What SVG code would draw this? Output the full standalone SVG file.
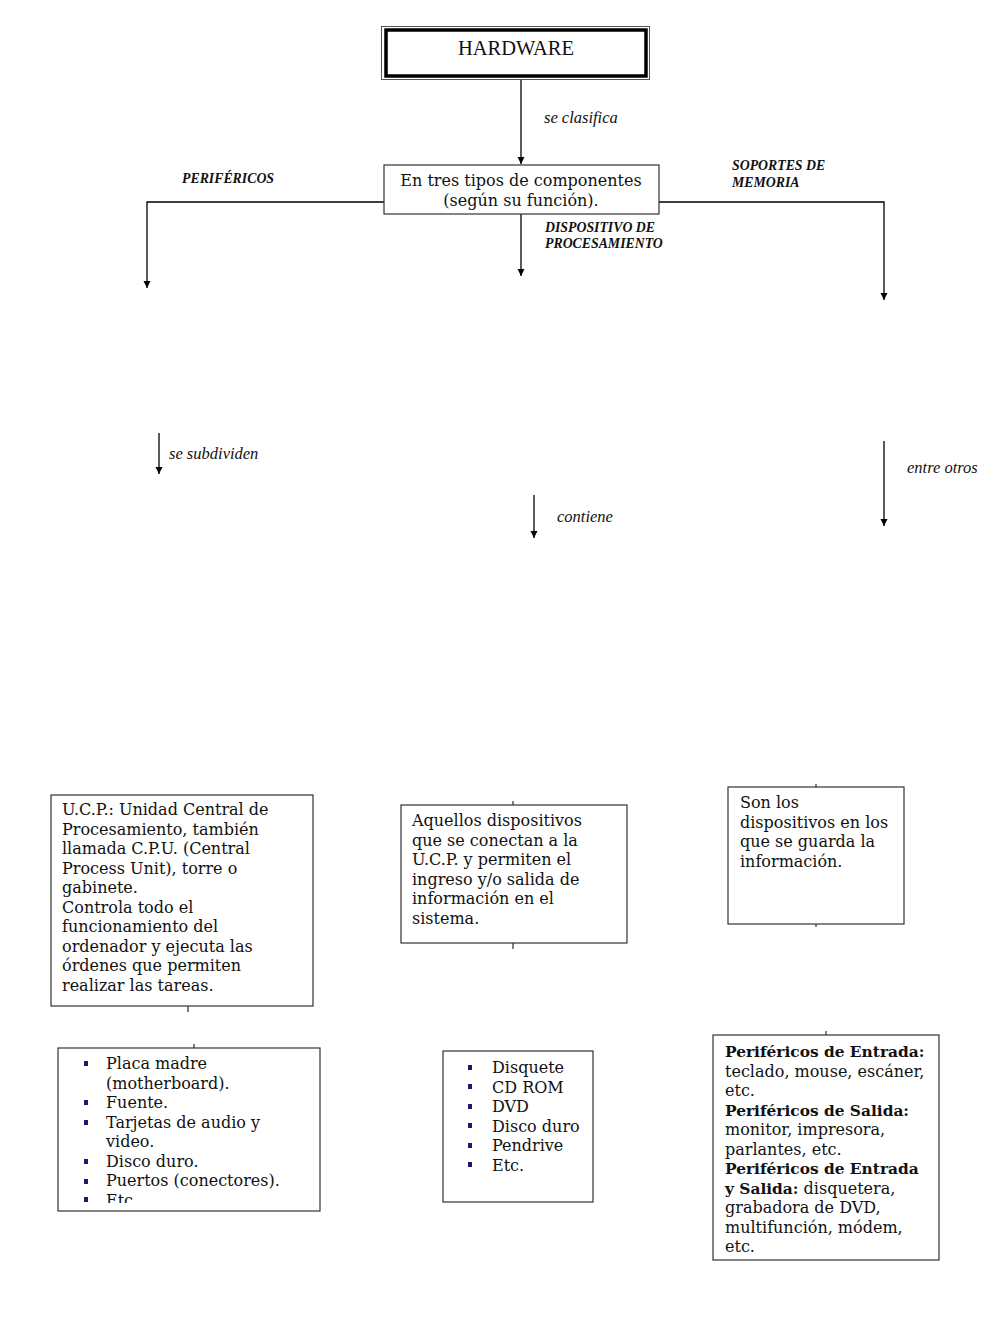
<svg xmlns="http://www.w3.org/2000/svg" width="1000" height="1333" viewBox="0 0 1000 1333">
<style>
.box{fill:#fff;stroke:#333;stroke-width:1.2}
.ln{stroke:#000;stroke-width:1.3;fill:none}
.tk{stroke:#000;stroke-width:1}
.t{font-family:"DejaVu Serif","Liberation Serif",serif;font-size:16px;fill:#111}
.b{font-weight:bold;font-size:15.4px}
.lab{font-family:"Liberation Serif",serif;font-style:italic;font-size:16.5px;fill:#111}
.cap{font-family:"Liberation Serif",serif;font-style:italic;font-weight:bold;font-size:13.8px;fill:#111}
.bul{fill:#1a1a6e}
</style>
<defs>
<marker id="ah" markerWidth="8" markerHeight="8" refX="7" refY="4" orient="auto" markerUnits="userSpaceOnUse">
<path d="M0,0.5 L7,4 L0,7.5 Z" fill="#000"/>
</marker>
<clipPath id="c4"><rect x="58" y="1048" width="262" height="155"/></clipPath>
</defs>
<rect width="1000" height="1333" fill="#fff"/>

<g id="connectors">
<line class="ln" x1="521" y1="79" x2="521" y2="164" marker-end="url(#ah)"/>
<polyline class="ln" points="384,202 147,202 147,288" marker-end="url(#ah)"/>
<polyline class="ln" points="659,202 884,202 884,300" marker-end="url(#ah)"/>
<line class="ln" x1="521" y1="214" x2="521" y2="276" marker-end="url(#ah)"/>
<line class="ln" x1="159" y1="433" x2="159" y2="474" marker-end="url(#ah)"/>
<line class="ln" x1="534" y1="495" x2="534" y2="538" marker-end="url(#ah)"/>
<line class="ln" x1="884" y1="441" x2="884" y2="526" marker-end="url(#ah)"/>
<line class="tk" x1="188" y1="1006" x2="188" y2="1012"/>
<line class="tk" x1="194" y1="1044" x2="194" y2="1048"/>
<line class="tk" x1="513" y1="801" x2="513" y2="805"/>
<line class="tk" x1="513" y1="943" x2="513" y2="949"/>
<line class="tk" x1="816" y1="784" x2="816" y2="787"/>
<line class="tk" x1="816" y1="924" x2="816" y2="927"/>
<line class="tk" x1="826" y1="1031" x2="826" y2="1035"/>
<text class="lab" x="544" y="123">se clasifica</text>
<text class="cap" x="182" y="183">PERIFÉRICOS</text>
<text class="cap" x="732" y="170">SOPORTES DE</text>
<text class="cap" x="732" y="187">MEMORIA</text>
<text class="cap" x="545" y="232">DISPOSITIVO DE</text>
<text class="cap" x="545" y="248">PROCESAMIENTO</text>
<text class="lab" x="169" y="459">se subdividen</text>
<text class="lab" x="557" y="522">contiene</text>
<text class="lab" x="907" y="473">entre otros</text>
</g>

<g id="hardware">
<rect x="381.5" y="26.5" width="268" height="53" fill="#fff" stroke="#555" stroke-width="1"/>
<rect x="386" y="30" width="260" height="46" fill="none" stroke="#000" stroke-width="3.5"/>
<text x="516" y="55" text-anchor="middle" font-family="Liberation Serif,serif" font-size="20.5" fill="#111">HARDWARE</text>
</g>

<g id="tipos">
<rect class="box" x="384" y="165" width="275" height="49"/>
<text class="t" x="521" y="186" text-anchor="middle">En tres tipos de componentes</text>
<text class="t" x="521" y="206" text-anchor="middle">(según su función).</text>
</g>

<g id="ucp">
<rect class="box" x="51" y="795" width="262" height="211"/>
<text class="t" x="62" y="815">U.C.P.: Unidad Central de</text>
<text class="t" x="62" y="834.5">Procesamiento, también</text>
<text class="t" x="62" y="854">llamada C.P.U. (Central</text>
<text class="t" x="62" y="873.5">Process Unit), torre o</text>
<text class="t" x="62" y="893">gabinete.</text>
<text class="t" x="62" y="912.5">Controla todo el</text>
<text class="t" x="62" y="932">funcionamiento del</text>
<text class="t" x="62" y="951.5">ordenador y ejecuta las</text>
<text class="t" x="62" y="971">órdenes que permiten</text>
<text class="t" x="62" y="990.5">realizar las tareas.</text>
</g>

<g id="perifericos-def">
<rect class="box" x="401" y="805" width="226" height="138"/>
<text class="t" x="412" y="826">Aquellos dispositivos</text>
<text class="t" x="412" y="845.5">que se conectan a la</text>
<text class="t" x="412" y="865">U.C.P. y permiten el</text>
<text class="t" x="412" y="884.5">ingreso y/o salida de</text>
<text class="t" x="412" y="904">información en el</text>
<text class="t" x="412" y="923.5">sistema.</text>
</g>

<g id="soportes-def">
<rect class="box" x="728" y="787" width="176" height="137"/>
<text class="t" x="740" y="808">Son los</text>
<text class="t" x="740" y="827.5">dispositivos en los</text>
<text class="t" x="740" y="847">que se guarda la</text>
<text class="t" x="740" y="866.5">información.</text>
</g>

<g id="componentes">
<rect class="box" x="58" y="1048" width="262" height="163"/>
<g clip-path="url(#c4)">
<rect class="bul" x="84" y="1061" width="4" height="5"/>
<rect class="bul" x="84" y="1100" width="4" height="5"/>
<rect class="bul" x="84" y="1120" width="4" height="5"/>
<rect class="bul" x="84" y="1159" width="4" height="5"/>
<rect class="bul" x="84" y="1179" width="4" height="5"/>
<rect class="bul" x="84" y="1197" width="4" height="5"/>
<text class="t" x="106" y="1069">Placa madre</text>
<text class="t" x="106" y="1088.5">(motherboard).</text>
<text class="t" x="106" y="1108">Fuente.</text>
<text class="t" x="106" y="1127.5">Tarjetas de audio y</text>
<text class="t" x="106" y="1147">video.</text>
<text class="t" x="106" y="1166.5">Disco duro.</text>
<text class="t" x="106" y="1186">Puertos (conectores).</text>
<text class="t" x="106" y="1205.5">Etc.</text>
</g>
</g>

<g id="memorias">
<rect class="box" x="443" y="1051" width="150" height="151"/>
<rect class="bul" x="468" y="1065" width="4" height="5"/>
<rect class="bul" x="468" y="1084" width="4" height="5"/>
<rect class="bul" x="468" y="1104" width="4" height="5"/>
<rect class="bul" x="468" y="1123" width="4" height="5"/>
<rect class="bul" x="468" y="1143" width="4" height="5"/>
<rect class="bul" x="468" y="1162" width="4" height="5"/>
<text class="t" x="492" y="1073">Disquete</text>
<text class="t" x="492" y="1092.5">CD ROM</text>
<text class="t" x="492" y="1112">DVD</text>
<text class="t" x="492" y="1131.5">Disco duro</text>
<text class="t" x="492" y="1151">Pendrive</text>
<text class="t" x="492" y="1170.5">Etc.</text>
</g>

<g id="tipos-perifericos">
<rect class="box" x="713" y="1035" width="226" height="225"/>
<text class="t b" x="725" y="1057">Periféricos de Entrada:</text>
<text class="t" x="725" y="1076.5">teclado, mouse, escáner,</text>
<text class="t" x="725" y="1096">etc.</text>
<text class="t b" x="725" y="1115.5">Periféricos de Salida:</text>
<text class="t" x="725" y="1135">monitor, impresora,</text>
<text class="t" x="725" y="1154.5">parlantes, etc.</text>
<text class="t b" x="725" y="1174">Periféricos de Entrada</text>
<text class="t" x="725" y="1193.5"><tspan class="b">y Salida:</tspan> disquetera,</text>
<text class="t" x="725" y="1213">grabadora de DVD,</text>
<text class="t" x="725" y="1232.5">multifunción, módem,</text>
<text class="t" x="725" y="1252">etc.</text>
</g>
</svg>
